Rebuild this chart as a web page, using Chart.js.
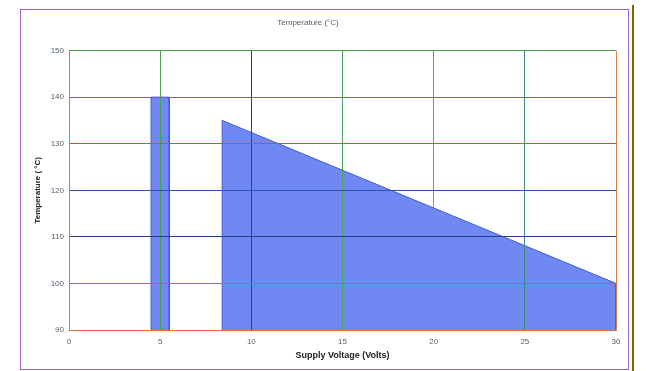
<!DOCTYPE html>
<html>
<head>
<meta charset="utf-8">
<script src="https://cdn.jsdelivr.net/npm/chart.js@4"></script>
<style>
  html, body { margin: 0; padding: 0; background: #fff; }
  #wrap { width: 646px; height: 371px; }
</style>
</head>
<body>
<div id="wrap"><canvas id="chart" width="646" height="371"></canvas></div>
<script>
// supply voltage (V) vs max temperature (°C)
const lowBandX = [4.5, 4.5, 5.5, 5.5]
const lowBandY = [90, 140, 140, 90]
const rangeX = [8.4, 8.4, 30, 30]
const rangeY = [90, 135, 100, 90]

const xTicks = [0, 5, 10, 15, 20, 25, 30]
const yTicks = [90, 100, 110, 120, 130, 140, 150]

const xGridColors = {0: '#c070c0', 5: '#4aa050', 10: '#2a3a9a', 15: '#4aa050', 20: '#c08030', 25: '#3a8a80', 30: '#e08040'}
const yGridColors = {90: '#e07040', 100: '#a060c0', 110: '#2a3a8a', 120: '#3050b0', 130: '#e04a30', 140: '#6a5ad0', 150: '#4aa050'}

function toPoints(xs, ys) {
    return xs.map((x, i) => ({x: x, y: ys[i]}))
}

const frame = {
    id: 'frame',
    beforeDraw(chart) {
        const ctx = chart.ctx
        ctx.save()
        ctx.strokeStyle = '#9a60c8'
        ctx.lineWidth = 1
        ctx.strokeRect(20.5, 9.5, 608, 360)
        ctx.strokeStyle = '#7a6a00'
        ctx.lineWidth = 2
        ctx.beginPath()
        ctx.moveTo(633, 5)
        ctx.lineTo(633, 371)
        ctx.stroke()
        ctx.restore()
    }
}

const fillColor = '#7088f2'
const edgeColor = '#3a5ad8'

new Chart(document.querySelector('#chart'), {
    type: 'line',
    data: {
        datasets: [{
            data: toPoints(lowBandX, lowBandY),
            borderColor: edgeColor,
            borderWidth: 1,
            backgroundColor: fillColor,
            fill: {value: 90},
            pointRadius: 0,
            tension: 0
        }, {
            data: toPoints(rangeX, rangeY),
            borderColor: edgeColor,
            borderWidth: 1,
            backgroundColor: fillColor,
            fill: {value: 90},
            pointRadius: 0,
            tension: 0
        }]
    },
    options: {
        responsive: false,
        animation: false,
        layout: {padding: {top: 12, right: 30, bottom: 0, left: 0}},
        plugins: {
            legend: {display: false},
            tooltip: {enabled: false},
            title: {
                display: true,
                text: 'Temperature (°C)',
                color: '#556070',
                font: {family: 'Liberation Sans', size: 8, weight: 'normal'},
                padding: {top: 6, bottom: 23}
            }
        },
        scales: {
            x: {
                type: 'linear',
                min: 0,
                max: 30,
                afterBuildTicks: s => { s.ticks = xTicks.map(v => ({value: v})) },
                afterFit: s => { s.height = 41 },
                grid: {
                    z: 1,
                    drawTicks: false,
                    color: c => xGridColors[c.tick && c.tick.value] || '#888',
                    lineWidth: 1
                },
                border: {z: 1, color: '#e07040'},
                ticks: {
                    padding: 7,
                    color: '#556070',
                    font: {family: 'Liberation Sans', size: 8}
                },
                title: {
                    display: true,
                    text: 'Supply Voltage (Volts)',
                    color: '#222',
                    font: {family: 'Liberation Sans', size: 9, weight: 'bold'},
                    padding: {top: 2, bottom: 10}
                }
            },
            y: {
                min: 90,
                max: 150,
                afterBuildTicks: s => { s.ticks = yTicks.map(v => ({value: v})) },
                afterFit: s => { s.width = 69 },
                grid: {
                    z: 1,
                    drawTicks: false,
                    color: c => yGridColors[c.tick && c.tick.value] || '#888',
                    lineWidth: 1
                },
                border: {z: 1, color: '#c070c0'},
                ticks: {
                    padding: 5,
                    color: '#556070',
                    font: {family: 'Liberation Sans', size: 8}
                },
                title: {
                    display: true,
                    text: 'Temperature ( °C)',
                    color: '#222',
                    font: {family: 'Liberation Sans', size: 8, weight: 'bold'},
                    padding: {top: 33, bottom: 0}
                }
            }
        }
    },
    plugins: [frame]
})
</script>
</body>
</html>
